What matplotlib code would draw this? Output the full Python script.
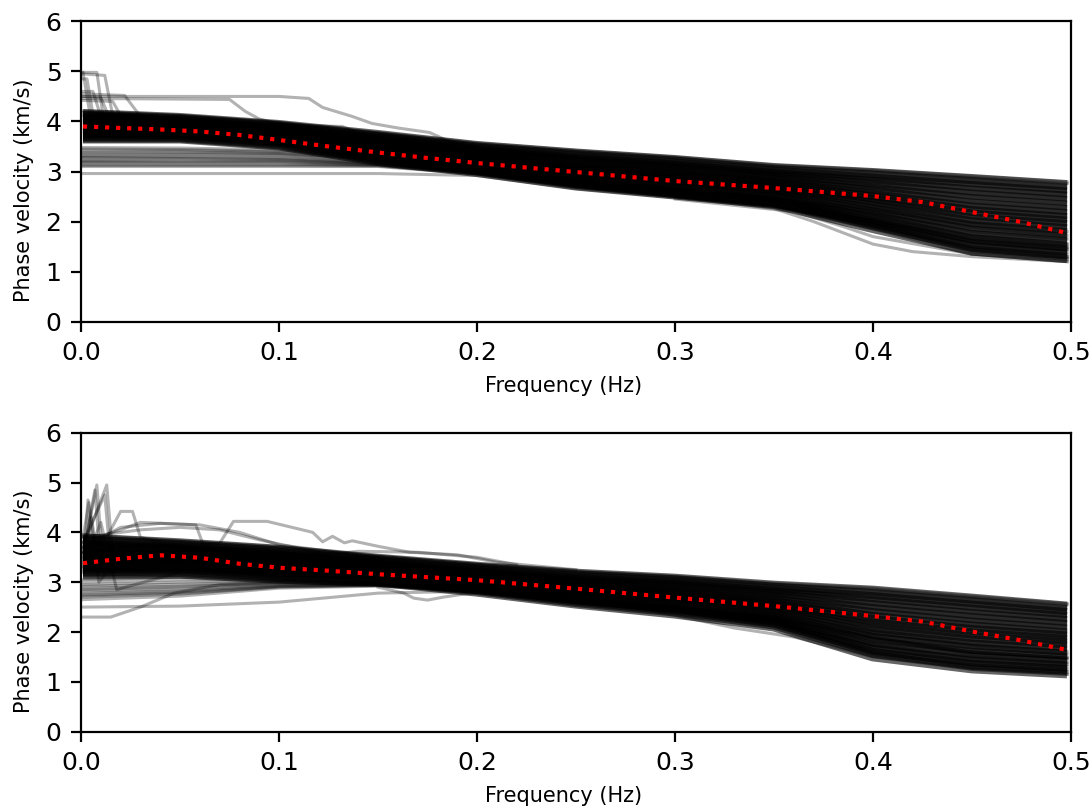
import matplotlib
matplotlib.use("Agg")
import matplotlib.pyplot as plt

# ---------------- data ----------------
FREQ = [0.001, 0.05, 0.1, 0.15, 0.2, 0.25, 0.3, 0.35, 0.4, 0.45, 0.498]
MEAN_FREQ = [0.001, 0.02, 0.04, 0.06, 0.08, 0.1, 0.125, 0.15, 0.175, 0.2,
             0.25, 0.3, 0.35, 0.4, 0.425, 0.45, 0.475, 0.498]

TOP_MEAN = [3.9, 3.87, 3.84, 3.8, 3.73, 3.63, 3.5, 3.38, 3.27, 3.17,
            2.99, 2.81, 2.67, 2.51, 2.39, 2.19, 1.99, 1.77]
BOTTOM_MEAN = [3.38, 3.47, 3.54, 3.49, 3.37, 3.29, 3.23, 3.16, 3.1, 3.04,
               2.87, 2.69, 2.52, 2.32, 2.21, 2.01, 1.83, 1.64]

# dense ensemble (top panel)
TOP_CORE = [
    [3.66, 3.66, 3.52, 3.21, 2.99, 2.72, 2.54, 2.35, 1.87, 1.42, 1.27],
    [3.68, 3.68, 3.54, 3.24, 3.02, 2.75, 2.57, 2.39, 1.93, 1.49, 1.34],
    [3.71, 3.70, 3.56, 3.26, 3.04, 2.78, 2.61, 2.42, 1.98, 1.56, 1.42],
    [3.74, 3.73, 3.59, 3.29, 3.07, 2.82, 2.65, 2.47, 2.05, 1.65, 1.50],
    [3.77, 3.75, 3.61, 3.32, 3.10, 2.86, 2.69, 2.51, 2.11, 1.73, 1.59],
    [3.80, 3.77, 3.63, 3.36, 3.14, 2.90, 2.73, 2.55, 2.18, 1.82, 1.68],
    [3.83, 3.80, 3.66, 3.39, 3.17, 2.94, 2.77, 2.59, 2.24, 1.91, 1.77],
    [3.86, 3.82, 3.68, 3.42, 3.20, 2.98, 2.82, 2.64, 2.31, 1.99, 1.85],
    [3.88, 3.84, 3.70, 3.44, 3.22, 3.01, 2.85, 2.67, 2.37, 2.06, 1.93],
    [3.91, 3.87, 3.73, 3.47, 3.25, 3.04, 2.89, 2.71, 2.42, 2.14, 2.00],
    [3.93, 3.89, 3.75, 3.50, 3.28, 3.07, 2.92, 2.75, 2.48, 2.21, 2.07],
    [3.95, 3.91, 3.77, 3.52, 3.30, 3.10, 2.95, 2.78, 2.53, 2.28, 2.15],
    [3.98, 3.93, 3.79, 3.55, 3.33, 3.14, 3.00, 2.83, 2.60, 2.36, 2.23],
    [4.01, 3.96, 3.82, 3.58, 3.36, 3.18, 3.04, 2.87, 2.66, 2.45, 2.32],
    [4.04, 3.98, 3.84, 3.62, 3.40, 3.22, 3.08, 2.91, 2.73, 2.54, 2.41],
    [4.07, 4.00, 3.86, 3.65, 3.43, 3.26, 3.12, 2.95, 2.79, 2.62, 2.50],
    [4.10, 4.03, 3.89, 3.68, 3.46, 3.30, 3.16, 3.00, 2.86, 2.71, 2.58],
    [4.12, 4.05, 3.91, 3.70, 3.48, 3.33, 3.20, 3.03, 2.92, 2.79, 2.66],
    [4.15, 4.07, 3.93, 3.73, 3.51, 3.36, 3.23, 3.07, 2.97, 2.85, 2.73],
]
# thin members: edges of the bundle and the low-velocity group (top panel)
TOP_LOW = [
    [4.21, 4.12, 3.98, 3.78, 3.57, 3.42, 3.29, 3.13, 3.03, 2.91, 2.79],
    [4.18, 4.10, 3.96, 3.76, 3.55, 3.40, 3.27, 3.11, 3.01, 2.88, 2.76],
    [3.48, 3.47, 3.43, 3.30, 3.10, 2.85, 2.65, 2.45, 2.10, 1.70, 1.55],
    [3.45, 3.44, 3.40, 3.28, 3.08, 2.82, 2.62, 2.42, 2.05, 1.65, 1.50],
    [3.42, 3.42, 3.38, 3.25, 3.05, 2.80, 2.60, 2.40, 2.00, 1.60, 1.45],
    [3.38, 3.39, 3.36, 3.24, 3.04, 2.80, 2.62, 2.44, 2.20, 1.88, 1.72],
    [3.36, 3.36, 3.34, 3.22, 3.02, 2.78, 2.60, 2.42, 2.15, 1.80, 1.65],
    [3.32, 3.34, 3.32, 3.20, 3.02, 2.80, 2.62, 2.45, 2.25, 1.95, 1.80],
    [3.30, 3.30, 3.28, 3.18, 3.00, 2.75, 2.55, 2.35, 1.90, 1.45, 1.30],
    [3.28, 3.28, 3.26, 3.17, 3.00, 2.74, 2.54, 2.33, 1.88, 1.40, 1.25],
    [3.25, 3.26, 3.24, 3.16, 3.00, 2.76, 2.58, 2.38, 2.05, 1.70, 1.55],
    [3.22, 3.23, 3.22, 3.15, 2.99, 2.74, 2.56, 2.36, 2.02, 1.62, 1.48],
    [3.20, 3.20, 3.20, 3.14, 2.98, 2.72, 2.52, 2.30, 1.85, 1.35, 1.20],
    [3.18, 3.18, 3.18, 3.13, 2.97, 2.71, 2.51, 2.31, 1.92, 1.42, 1.28],
    [3.15, 3.15, 3.15, 3.12, 2.96, 2.70, 2.50, 2.30, 1.95, 1.50, 1.35],
    [3.12, 3.12, 3.12, 3.11, 2.96, 2.70, 2.50, 2.31, 1.98, 1.55, 1.40],
    [3.10, 3.10, 3.10, 3.10, 2.95, 2.70, 2.50, 2.32, 2.00, 1.60, 1.45],
    [2.96, 2.96, 2.96, 2.96, 2.92, 2.66, 2.48, 2.30, 1.95, 1.45, 1.30],
]
# individual outlying members (top panel)
TOP_OUT_FREQ = [
    [0.001, 0.0045, 0.05],
    [0.001, 0.008, 0.011, 0.05],
    [0.001, 0.012, 0.016, 0.05],
    [0.001, 0.01, 0.014, 0.05],
    [0.001, 0.022, 0.03, 0.05],
    [0.001, 0.016, 0.02, 0.05],
    [0.001, 0.006, 0.01, 0.05],
    [0.001, 0.003, 0.006, 0.05],
    [0.001, 0.075, 0.083, 0.09, 0.1, 0.15],
    [0.001, 0.05, 0.1, 0.115, 0.122, 0.137, 0.147, 0.16, 0.176, 0.186, 0.2, 0.25],
    [0.001, 0.05, 0.09, 0.132, 0.14, 0.2],
    [0.3, 0.35, 0.37, 0.4, 0.42, 0.45, 0.498],
    [0.3, 0.36, 0.385, 0.4, 0.45, 0.498],
]
TOP_OUT_VEL = [
    [4.98, 4.15, 4.05],
    [4.98, 4.98, 4.15, 4.05],
    [4.95, 4.92, 4.12, 4.0],
    [4.5, 4.48, 4.1, 4.0],
    [4.55, 4.52, 4.1, 4.05],
    [4.42, 4.4, 4.12, 4.05],
    [4.6, 4.6, 4.1, 4.05],
    [4.85, 4.85, 4.15, 4.05],
    [4.46, 4.44, 4.2, 4.05, 3.95, 3.7],
    [4.5, 4.5, 4.5, 4.46, 4.28, 4.1, 3.96, 3.87, 3.78, 3.6, 3.48, 3.3],
    [4.12, 4.02, 3.94, 3.9, 3.76, 3.5],
    [2.5, 2.26, 2.0, 1.55, 1.4, 1.3, 1.2],
    [2.45, 2.2, 1.9, 1.7, 1.35, 1.25],
]

# dense ensemble (bottom panel)
BOTTOM_CORE = [
    [3.15, 3.17, 3.07, 3.01, 2.81, 2.57, 2.37, 2.11, 1.51, 1.27, 1.17],
    [3.19, 3.20, 3.10, 3.03, 2.84, 2.60, 2.41, 2.15, 1.58, 1.34, 1.24],
    [3.22, 3.23, 3.13, 3.06, 2.86, 2.63, 2.44, 2.19, 1.64, 1.41, 1.30],
    [3.27, 3.27, 3.16, 3.08, 2.89, 2.67, 2.48, 2.24, 1.72, 1.49, 1.38],
    [3.31, 3.30, 3.20, 3.11, 2.92, 2.70, 2.52, 2.29, 1.80, 1.58, 1.47],
    [3.35, 3.34, 3.23, 3.14, 2.95, 2.74, 2.57, 2.34, 1.88, 1.66, 1.55],
    [3.40, 3.38, 3.27, 3.17, 2.98, 2.77, 2.61, 2.39, 1.96, 1.75, 1.63],
    [3.44, 3.41, 3.30, 3.19, 3.01, 2.81, 2.65, 2.44, 2.04, 1.83, 1.71],
    [3.48, 3.45, 3.33, 3.22, 3.04, 2.84, 2.69, 2.48, 2.10, 1.90, 1.77],
    [3.52, 3.48, 3.36, 3.24, 3.06, 2.87, 2.72, 2.52, 2.17, 1.97, 1.84],
    [3.55, 3.51, 3.39, 3.26, 3.09, 2.90, 2.76, 2.56, 2.24, 2.04, 1.91],
    [3.59, 3.54, 3.42, 3.29, 3.11, 2.93, 2.79, 2.60, 2.30, 2.11, 1.97],
    [3.63, 3.57, 3.45, 3.31, 3.14, 2.97, 2.83, 2.65, 2.38, 2.19, 2.05],
    [3.68, 3.61, 3.49, 3.34, 3.17, 3.00, 2.87, 2.70, 2.46, 2.28, 2.14],
    [3.72, 3.65, 3.52, 3.37, 3.20, 3.04, 2.92, 2.75, 2.54, 2.36, 2.22],
    [3.76, 3.68, 3.56, 3.40, 3.23, 3.07, 2.96, 2.80, 2.62, 2.45, 2.30],
    [3.81, 3.72, 3.59, 3.42, 3.26, 3.11, 3.00, 2.85, 2.70, 2.53, 2.38],
    [3.84, 3.75, 3.62, 3.45, 3.29, 3.14, 3.04, 2.89, 2.76, 2.60, 2.44],
    [3.88, 3.78, 3.65, 3.47, 3.31, 3.17, 3.07, 2.93, 2.83, 2.67, 2.51],
]
BOTTOM_LOW = [
    [3.95, 3.83, 3.71, 3.52, 3.36, 3.22, 3.12, 2.98, 2.88, 2.72, 2.57],
    [3.92, 3.81, 3.69, 3.50, 3.34, 3.20, 3.10, 2.96, 2.86, 2.70, 2.55],
    [3.05, 3.10, 3.05, 2.98, 2.86, 2.65, 2.50, 2.35, 2.00, 1.75, 1.60],
    [3.00, 3.05, 3.04, 2.98, 2.86, 2.64, 2.48, 2.30, 1.90, 1.60, 1.48],
    [2.95, 3.00, 3.02, 2.98, 2.85, 2.62, 2.45, 2.20, 1.70, 1.40, 1.30],
    [2.92, 2.96, 3.00, 2.97, 2.84, 2.61, 2.44, 2.20, 1.65, 1.35, 1.25],
    [2.88, 2.92, 2.98, 2.96, 2.82, 2.60, 2.42, 2.18, 1.60, 1.30, 1.20],
    [2.85, 2.90, 2.97, 2.96, 2.83, 2.62, 2.45, 2.22, 1.75, 1.50, 1.38],
    [2.82, 2.86, 2.95, 2.95, 2.84, 2.64, 2.48, 2.25, 1.85, 1.60, 1.48],
    [2.78, 2.83, 2.93, 2.95, 2.81, 2.59, 2.41, 2.15, 1.60, 1.30, 1.20],
    [2.75, 2.80, 2.92, 2.94, 2.80, 2.58, 2.40, 2.12, 1.55, 1.25, 1.15],
    [2.72, 2.78, 2.91, 2.94, 2.81, 2.60, 2.43, 2.25, 1.85, 1.60, 1.48],
    [2.70, 2.76, 2.90, 2.93, 2.82, 2.62, 2.45, 2.30, 1.95, 1.70, 1.55],
    [2.65, 2.72, 2.88, 2.92, 2.80, 2.60, 2.44, 2.22, 1.75, 1.45, 1.35],
    [2.50, 2.52, 2.60, 2.78, 2.82, 2.62, 2.46, 2.28, 1.90, 1.55, 1.42],
]
BOTTOM_OUT_FREQ = [
    [0.001, 0.015, 0.03, 0.047, 0.07, 0.1, 0.15, 0.2],
    [0.001, 0.0035, 0.006, 0.01, 0.05, 0.1],
    [0.001, 0.008, 0.011, 0.05, 0.1],
    [0.001, 0.013, 0.016, 0.05, 0.1],
    [0.001, 0.004, 0.008, 0.05, 0.1],
    [0.001, 0.012, 0.015, 0.05],
    [0.001, 0.007, 0.01, 0.05],
    [0.001, 0.005, 0.009, 0.013, 0.05],
    [0.001, 0.01, 0.018, 0.05],
    [0.001, 0.013, 0.02, 0.026, 0.03, 0.05, 0.1],
    [0.001, 0.02, 0.03, 0.058, 0.062, 0.1, 0.15],
    [0.001, 0.02, 0.04, 0.06, 0.08, 0.1, 0.15],
    [0.001, 0.03, 0.05, 0.07, 0.09, 0.12],
    [0.001, 0.03, 0.06, 0.07, 0.077, 0.094, 0.117, 0.122, 0.127, 0.133,
     0.137, 0.15, 0.166, 0.19, 0.21, 0.25],
    [0.1, 0.13, 0.14, 0.17, 0.2, 0.22],
    [0.15, 0.163, 0.168, 0.175, 0.183, 0.2],
    [0.28, 0.31, 0.33, 0.36, 0.4, 0.45, 0.498],
]
BOTTOM_OUT_VEL = [
    [2.3, 2.3, 2.5, 2.78, 2.95, 3.0, 2.95, 2.85],
    [3.2, 4.65, 3.5, 3.45, 3.5, 3.4],
    [3.6, 4.95, 3.4, 3.55, 3.4],
    [3.7, 4.95, 3.5, 3.6, 3.45],
    [3.9, 4.6, 3.6, 3.6, 3.4],
    [3.8, 4.75, 3.4, 3.5],
    [3.5, 4.85, 3.3, 3.45],
    [3.4, 4.3, 3.0, 3.2, 3.4],
    [3.3, 4.2, 2.85, 3.2],
    [3.6, 3.9, 4.42, 4.42, 3.9, 3.7, 3.5],
    [3.8, 4.05, 4.2, 4.15, 3.72, 3.6, 3.45],
    [3.7, 4.1, 4.18, 4.15, 4.0, 3.75, 3.5],
    [3.9, 4.05, 4.1, 4.05, 3.85, 3.6],
    [3.6, 3.75, 3.75, 3.78, 4.22, 4.22, 4.0, 3.81, 3.92, 3.79,
     3.83, 3.72, 3.6, 3.55, 3.4, 3.25],
    [3.55, 3.58, 3.62, 3.6, 3.5, 3.35],
    [2.9, 2.78, 2.68, 2.64, 2.7, 2.8],
    [2.5, 2.25, 2.08, 1.9, 1.5, 1.25, 1.15],
]

X_TICKS = [0.0, 0.1, 0.2, 0.3, 0.4, 0.5]
X_TICK_LABELS = ["0.0", "0.1", "0.2", "0.3", "0.4", "0.5"]
Y_TICKS = [0, 1, 2, 3, 4, 5, 6]
X_LABEL = "Frequency (Hz)"
Y_LABEL = "Phase velocity (km/s)"

# ---------------- figure ----------------
plt.rcParams["font.family"] = ["DejaVu Sans"]
plt.rcParams["font.size"] = 7.5
plt.rcParams["xtick.labelsize"] = 9
plt.rcParams["ytick.labelsize"] = 9

DPI = 200
fig = plt.figure(figsize=(1092 / DPI, 811 / DPI), dpi=DPI)
ax_top = fig.add_axes([0.0742, 0.6033, 0.9066, 0.3704])
ax_bot = fig.add_axes([0.0742, 0.0978, 0.9066, 0.3687])


def draw_panel(ax, core, low, out_f, out_v, mean):
    for v in core:
        ax.plot(FREQ, v, color="k", alpha=0.6, lw=3.6, solid_capstyle="butt")
    for v in low:
        ax.plot(FREQ, v, color="k", alpha=0.3, lw=1.1)
    for f, v in zip(out_f, out_v):
        ax.plot(f, v, color="k", alpha=0.3, lw=1.1)
    ax.plot(MEAN_FREQ, mean, color="red", linestyle=":", lw=1.5, zorder=5)
    ax.set_xlim(0, 0.5)
    ax.set_ylim(0, 6)
    ax.set_xticks(X_TICKS)
    ax.set_xticklabels(X_TICK_LABELS)
    ax.set_yticks(Y_TICKS)
    ax.set_xlabel(X_LABEL)
    ax.set_ylabel(Y_LABEL)
    ax.xaxis.label.set_x(0.487)
    ax.yaxis.label.set_y(0.437)


draw_panel(ax_top, TOP_CORE, TOP_LOW, TOP_OUT_FREQ, TOP_OUT_VEL, TOP_MEAN)
draw_panel(ax_bot, BOTTOM_CORE, BOTTOM_LOW, BOTTOM_OUT_FREQ, BOTTOM_OUT_VEL, BOTTOM_MEAN)

fig.savefig("out.png", dpi=DPI)
